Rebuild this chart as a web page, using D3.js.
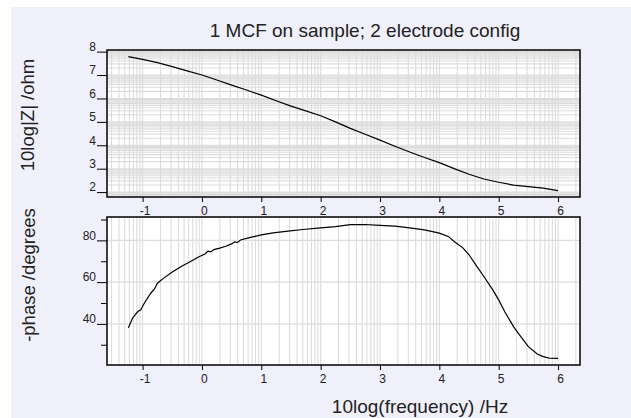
<!DOCTYPE html>
<html>
<head>
<meta charset="utf-8">
<script src="https://cdn.jsdelivr.net/npm/d3@7"></script>
<style>
  body { margin: 0; background: #fff; }
  text { font-family: Arial, "Liberation Sans", sans-serif; fill: #222; }
</style>
</head>
<body>
<div id="chart"></div>
<script>
// DATA: log10(frequency) vs log10|Z| and -phase
const freqLogZ = [-1.24, -1, -0.75, -0.5, -0.25, 0, 0.25, 0.5, 0.75, 1, 1.25, 1.5, 1.75, 2, 2.25,
                  2.5, 2.75, 3, 3.25, 3.5, 3.75, 4, 4.25, 4.5, 4.75, 5, 5.25, 5.5, 5.75, 6];
const logZ = [7.79, 7.67, 7.53, 7.36, 7.18, 7.0, 6.79, 6.57, 6.36, 6.14, 5.9, 5.67, 5.47, 5.26, 5.0,
              4.72, 4.47, 4.22, 3.96, 3.71, 3.48, 3.26, 3.0, 2.76, 2.56, 2.42, 2.3, 2.23, 2.17, 2.06];

const freqPhase = [-1.24, -1.17, -1.08, -1.03, -0.97, -0.86, -0.8, -0.75, -0.65, -0.5, -0.35, -0.2,
                   -0.05, 0.05, 0.1, 0.15, 0.2, 0.3, 0.4, 0.5, 0.55, 0.6, 0.65, 0.8, 1.0, 1.2, 1.45,
                   1.7, 2.0, 2.25, 2.5, 2.75, 3.0, 3.25, 3.5, 3.75, 4.0, 4.15, 4.25, 4.4, 4.5, 4.62,
                   4.75, 4.9, 5.0, 5.1, 5.25, 5.35, 5.5, 5.65, 5.75, 5.85, 6.0];
const phase = [38.2, 42.7, 45.9, 46.7, 50, 54.8, 56.7, 59.5, 61.8, 64.8, 67.5, 69.8,
               72.2, 73.5, 74.8, 74.5, 75.6, 76.3, 77.2, 78.3, 79.3, 79.0, 80.2, 81.3, 82.6, 83.6, 84.4,
               85.2, 86.0, 86.6, 87.5, 87.6, 87.2, 86.8, 86.0, 85.0, 83.5, 81.9, 79.5, 76.3, 73.1, 68.0,
               62.7, 56.3, 51.5, 45.9, 38.7, 34.7, 29.1, 25.6, 24.3, 23.6, 23.5];

const xTicks = [-1, 0, 1, 2, 3, 4, 5, 6];
const zTicks = [2, 3, 4, 5, 6, 7, 8];
const phaseTicks = [40, 60, 80];
const phaseMinor = [30, 50, 70, 90];

const titleText = "1 MCF on sample; 2 electrode config";
const zLabel = "10log|Z| /ohm";
const phaseLabel = "-phase /degrees";
const xLabel = "10log(frequency) /Hz";

// SETUP
const W = 631, H = 418;
const left = 107, right = 580;
const top1 = 50, bot1 = 197;
const top2 = 217, bot2 = 365;
const gridColor = "#dcdcdc";

const svg = d3.select("#chart").append("svg")
    .attr("width", W).attr("height", H);

// panel background
svg.append("rect")
    .attr("x", 11).attr("y", 7)
    .attr("width", W - 11).attr("height", H - 7)
    .attr("fill", "#f0f0fa");

// scales
const x = d3.scaleLinear().domain([-1.6, 6.37]).range([left, right]);
const yZ = d3.scaleLinear().domain([1.79, 8.07]).range([bot1, top1]);
const yP = d3.scaleLinear().domain([20.3, 91.2]).range([bot2, top2]);

// log style grid positions (n + log10(k))
function logGrid(lo, hi) {
    const out = [];
    for (let n = Math.floor(lo) - 1; n <= Math.ceil(hi); n++) {
        for (let k = 1; k <= 9; k++) {
            const v = n + Math.log10(k);
            if (v > lo && v < hi) out.push(v);
        }
    }
    return out;
}

function panel(yScale, top, bot, hGrid) {
    const g = svg.append("g");
    g.append("rect")
        .attr("x", left).attr("y", top)
        .attr("width", right - left).attr("height", bot - top)
        .attr("fill", "#fff");
    g.selectAll(".vg").data(logGrid(x.domain()[0], x.domain()[1])).join("line")
        .attr("x1", d => x(d)).attr("x2", d => x(d))
        .attr("y1", top).attr("y2", bot)
        .attr("stroke", gridColor).attr("stroke-width", 1.1);
    g.selectAll(".hg").data(hGrid).join("line")
        .attr("x1", left).attr("x2", right)
        .attr("y1", d => yScale(d)).attr("y2", d => yScale(d))
        .attr("stroke", gridColor).attr("stroke-width", 1.1);
    return g;
}

function xAxis(bot) {
    const ax = svg.append("g")
        .attr("transform", `translate(0,${bot})`)
        .call(d3.axisBottom(x).tickValues(xTicks).tickSize(5).tickPadding(4)
            .tickFormat(d => String(d)));
    ax.select(".domain").remove();
    ax.selectAll("line").attr("stroke", "#000");
    ax.selectAll("text").attr("font-size", 12).attr("font-family", "Arial, 'Liberation Sans'")
        .attr("fill", "#222").attr("dx", 2);
}

function yAxis(yScale, ticks) {
    const ay = svg.append("g")
        .attr("transform", `translate(${left},0)`)
        .call(d3.axisLeft(yScale).tickValues(ticks).tickSize(10).tickPadding(1)
            .tickFormat(d => String(d)));
    ay.select(".domain").remove();
    ay.selectAll("line").attr("stroke", "#000");
    ay.selectAll("text").attr("font-size", 12).attr("font-family", "Arial, 'Liberation Sans'")
        .attr("fill", "#222").attr("dy", "-0.1em");
    return ay;
}

// TOP PANEL: |Z|
panel(yZ, top1, bot1, logGrid(yZ.domain()[0], yZ.domain()[1]));
svg.append("path")
    .datum(freqLogZ.map((f, i) => [f, logZ[i]]))
    .attr("d", d3.line().x(d => x(d[0])).y(d => yZ(d[1])))
    .attr("fill", "none").attr("stroke", "#000").attr("stroke-width", 1.2);
svg.append("rect")
    .attr("x", left).attr("y", top1).attr("width", right - left).attr("height", bot1 - top1)
    .attr("fill", "none").attr("stroke", "#000").attr("stroke-width", 1.5);
xAxis(bot1);
yAxis(yZ, zTicks);

// BOTTOM PANEL: phase
panel(yP, top2, bot2, phaseTicks);
svg.append("path")
    .datum(freqPhase.map((f, i) => [f, phase[i]]))
    .attr("d", d3.line().x(d => x(d[0])).y(d => yP(d[1])))
    .attr("fill", "none").attr("stroke", "#000").attr("stroke-width", 1.2);
svg.append("rect")
    .attr("x", left).attr("y", top2).attr("width", right - left).attr("height", bot2 - top2)
    .attr("fill", "none").attr("stroke", "#000").attr("stroke-width", 1.5);
xAxis(bot2);
yAxis(yP, phaseTicks);
svg.append("g")
    .attr("transform", `translate(${left},0)`)
    .call(d3.axisLeft(yP).tickValues(phaseMinor).tickSize(6).tickFormat(""))
    .call(g => g.select(".domain").remove())
    .selectAll("line").attr("stroke", "#000");

// LABELS
svg.append("text")
    .attr("x", 365).attr("y", 37)
    .attr("text-anchor", "middle").attr("font-size", 19)
    .text(titleText);

svg.append("text")
    .attr("transform", "translate(33.5,115) rotate(-90)")
    .attr("text-anchor", "middle").attr("font-size", 18.5)
    .text(zLabel);

svg.append("text")
    .attr("transform", "translate(35,275) rotate(-90)")
    .attr("text-anchor", "middle").attr("font-size", 18.5)
    .text(phaseLabel);

// x title sits at the bottom edge; kept just inside so it is not clipped
svg.append("text")
    .attr("x", 420).attr("y", 413)
    .attr("text-anchor", "middle").attr("font-size", 19)
    .text(xLabel);
</script>
</body>
</html>
